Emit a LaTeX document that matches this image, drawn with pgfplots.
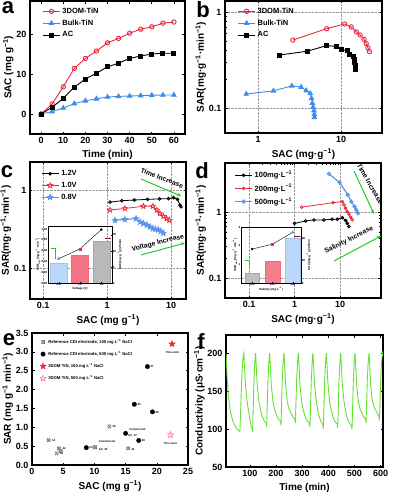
\documentclass[border=0pt]{standalone}
\usepackage{fontspec}
\setmainfont{Liberation Sans}
\usepackage{pgfplots}
\pgfplotsset{compat=1.18}
\usetikzlibrary{arrows.meta}

\definecolor{tinred}{RGB}{238,40,64}
\definecolor{tinblue}{RGB}{60,140,240}
\definecolor{lblue}{RGB}{90,150,235}
\definecolor{arrgreen}{RGB}{40,200,40}
\definecolor{fgreen}{RGB}{100,225,50}
\definecolor{darkred}{RGB}{140,30,30}

\newcommand{\fs}[1]{\fontsize{#1}{#1}\selectfont}

% five-pointed star
\pgfdeclareplotmark{pstar}{%
  \pgfpathmoveto{\pgfpointpolar{90}{1.3\pgfplotmarksize}}%
  \pgfpathlineto{\pgfpointpolar{126}{0.55\pgfplotmarksize}}%
  \pgfpathlineto{\pgfpointpolar{162}{1.3\pgfplotmarksize}}%
  \pgfpathlineto{\pgfpointpolar{198}{0.55\pgfplotmarksize}}%
  \pgfpathlineto{\pgfpointpolar{234}{1.3\pgfplotmarksize}}%
  \pgfpathlineto{\pgfpointpolar{270}{0.55\pgfplotmarksize}}%
  \pgfpathlineto{\pgfpointpolar{306}{1.3\pgfplotmarksize}}%
  \pgfpathlineto{\pgfpointpolar{342}{0.55\pgfplotmarksize}}%
  \pgfpathlineto{\pgfpointpolar{18}{1.3\pgfplotmarksize}}%
  \pgfpathlineto{\pgfpointpolar{54}{0.55\pgfplotmarksize}}%
  \pgfpathclose\pgfusepathqfillstroke}
% square with a cross
\pgfdeclareplotmark{boxx}{%
  \pgfpathrectangle{\pgfqpoint{-\pgfplotmarksize}{-\pgfplotmarksize}}{\pgfqpoint{2\pgfplotmarksize}{2\pgfplotmarksize}}%
  \pgfpathmoveto{\pgfqpoint{-\pgfplotmarksize}{-\pgfplotmarksize}}\pgfpathlineto{\pgfqpoint{\pgfplotmarksize}{\pgfplotmarksize}}%
  \pgfpathmoveto{\pgfqpoint{-\pgfplotmarksize}{\pgfplotmarksize}}\pgfpathlineto{\pgfqpoint{\pgfplotmarksize}{-\pgfplotmarksize}}%
  \pgfusepathqstroke}

\pgfplotsset{
  panel/.style={
    scale only axis, anchor=south west,
    axis line style={line width=1.1pt},
    tick style={black, line width=0.6pt},
    major tick length=2.5pt, minor tick length=1.5pt,
    tick label style={font=\bfseries\fs{9}},
    label style={font=\bfseries\fs{10}},
    ylabel shift=-4pt, xlabel shift=-1pt,
    legend style={draw=none, fill=none, font=\bfseries\fs{7.5}, row sep=1pt},
    legend cell align=left,
    /pgf/number format/assume math mode=true,
  },
  gridded/.style={grid=major, major grid style={densely dotted, gray!80, line width=0.5pt}},
  inset/.style={
    scale only axis, anchor=south west,
    axis line style={line width=0.5pt},
    tick style={black, line width=0.3pt},
    major tick length=1pt, minor tick length=0pt,
    tick label style={font=\bfseries\fs{3}, inner sep=0.6pt},
    label style={font=\bfseries\fs{3}, inner sep=0.6pt},
    /pgf/number format/assume math mode=true,
  },
}

\begin{document}
\begin{tikzpicture}
\useasboundingbox (0,0) rectangle (392pt,-497pt);

% ---------------- a ----------------
\begin{axis}[panel, at={(30pt,-134pt)}, width=155pt, height=133pt,
  xmin=-5, xmax=65, ymin=-5, ymax=28.25,
  xtick={0,10,...,60}, ytick={0,10,20},
  xlabel={Time (min)}, ylabel={SAC (mg g\textsuperscript{−1})},
  legend style={at={(0.06,0.98)}, anchor=north west}]
\addplot[tinred, line width=0.9pt, mark=o, mark size=2.2pt, mark options={fill=white}] coordinates {
 (0,0) (5,2.5) (10,6.8) (15,11.4) (20,13.9) (25,15.75) (30,17.8) (35,18.9) (40,20.2) (45,21.2) (50,21.8) (55,22.7) (60,23.0)};
\addplot[tinblue, line width=0.9pt, mark=triangle*, mark size=2.5pt] coordinates {
 (0,0) (5,0.6) (10,1.5) (15,2.6) (20,3.3) (25,3.8) (30,4.25) (35,4.4) (40,4.5) (45,4.6) (50,4.7) (55,4.75) (60,4.75)};
\addplot[black, line width=0.9pt, mark=square*, mark size=2pt] coordinates {
 (0,0) (5,1.7) (10,3.9) (15,6.7) (20,8.75) (25,10.2) (30,11.8) (35,12.7) (40,13.9) (45,14.5) (50,15.0) (55,15.2) (60,15.2)};
\legend{3DOM-TiN, Bulk-TiN, AC}
\end{axis}

% ---------------- b ----------------
\begin{axis}[panel, xmode=log, ymode=log, gridded, at={(225pt,-133pt)}, width=157pt, height=132pt,
  xmin=0.40, xmax=31, ymin=0.055, ymax=1.30,
  xtick={1,10}, xticklabels={1,10}, ytick={0.1,1}, yticklabels={0.1,1},
  xlabel={SAC (mg·g\textsuperscript{−1})}, ylabel={SAR(mg·g\textsuperscript{−1}·min\textsuperscript{−1})},
  legend style={at={(0.06,0.98)}, anchor=north west}]
\addplot[tinred, line width=0.9pt, mark=o, mark size=2.2pt, mark options={fill=white}] coordinates {
 (2.62,0.51) (6.7,0.67) (11.0,0.75) (13.2,0.70) (15.2,0.62) (16.9,0.576) (18.8,0.52) (20.0,0.47) (21.0,0.425) (21.9,0.386)};
\addplot[tinblue, line width=0.9pt, mark=triangle*, mark size=2.5pt] coordinates {
 (0.72,0.14) (1.53,0.151) (2.55,0.17) (3.3,0.165) (3.8,0.152) (4.25,0.142) (4.4,0.126) (4.5,0.1125) (4.6,0.102) (4.7,0.094) (4.75,0.086) (4.77,0.080)};
\addplot[black, line width=0.9pt, mark=square*, mark size=2pt] coordinates {
 (1.8,0.356) (3.9,0.39) (6.7,0.447) (8.75,0.4375) (10.2,0.408) (11.8,0.393) (12.7,0.363) (13.9,0.3475) (14.3,0.322) (14.6,0.30) (14.7,0.276) (14.7,0.252)};
\legend{3DOM-TiN, Bulk-TiN, AC}
\end{axis}

% ---------------- c ----------------
\begin{axis}[panel, xmode=log, ymode=log, gridded, at={(30pt,-299pt)}, width=156pt, height=137pt,
  xmin=0.0626, xmax=17.1, ymin=0.040, ymax=2.29,
  xtick={0.1,1,10}, xticklabels={0.1,1,10}, ytick={0.1,1}, yticklabels={0.1,1},
  xlabel={SAC (mg g\textsuperscript{−1})}, ylabel={SAR(mg·g\textsuperscript{−1}·min\textsuperscript{−1})},
  legend style={at={(0.05,0.97)}, anchor=north west}]
\addplot[black, line width=0.8pt, mark=o, mark size=1.4pt, mark options={fill=white}] coordinates {
 (1.11,0.70) (1.70,0.73) (2.67,0.745) (4.3,0.76) (6.6,0.77) (9.1,0.775) (10.9,0.80) (12.6,0.76) (13.8,0.64) (14.3,0.61)};
\addplot[tinred, line width=0.8pt, mark=pstar, mark size=2pt, mark options={fill=white}] coordinates {
 (1.11,0.555) (1.9,0.58) (3.7,0.62) (5.2,0.62) (6.0,0.555) (6.7,0.50) (7.6,0.46) (8.55,0.43) (9.4,0.41)};
\addplot[lblue, line width=1.2pt, mark=pstar, mark size=1.8pt, mark options={fill=lblue!50}] coordinates {
 (1.33,0.41) (1.9,0.42) (2.84,0.43) (3.3,0.39) (3.7,0.372) (4.2,0.355) (4.7,0.337) (5.2,0.32) (5.7,0.315) (6.3,0.31) (6.9,0.295) (7.6,0.28)};
\legend{1.2V, 1.0V, 0.8V}
\end{axis}

% inset c: bars on right axis
\begin{axis}[inset, at={(48pt,-283pt)}, width=64pt, height=57pt,
  xmin=0.7, xmax=1.3, ymin=0, ymax=17.8,
  axis x line=none, axis y line*=right, ytick={0,5,10,15},
  ylabel={SAC(mg·g\textsuperscript{−1})@25min}]
\addplot[ybar, bar shift=0pt, bar width=0.16, fill=tinblue!35, draw=tinblue!50] coordinates {(0.8,6.2)};
\addplot[ybar, bar shift=0pt, bar width=0.16, fill=tinred!65, draw=tinred!70] coordinates {(1.0,8.7)};
\addplot[ybar, bar shift=0pt, bar width=0.16, fill=gray!55, draw=gray!70] coordinates {(1.2,13.1)};
\end{axis}
% inset c: line on left axis
\begin{axis}[inset, at={(48pt,-283pt)}, width=64pt, height=57pt,
  xmin=0.7, xmax=1.3, ymin=0, ymax=1.055,
  xtick={0.8,1.0,1.2}, xticklabels={0.8,1.0,1.2}, ytick={0,0.2,0.4,0.6,0.8,1.0},
  xtick pos=bottom, ytick pos=left,
  yticklabel style={/pgf/number format/.cd, fixed, fixed zerofill, precision=2},
  xlabel={Voltage (V)}, ylabel={SAR\textsubscript{max}(mg·g\textsuperscript{−1}·min\textsuperscript{−1})}]
\addplot[black, line width=0.4pt] coordinates {(0.8,0.45) (1.0,0.63) (1.2,0.99)};
\addplot[only marks, mark=triangle*, mark size=1.3pt, tinblue] coordinates {(0.8,0.45)};
\addplot[only marks, mark=square*, mark size=1pt, tinred] coordinates {(1.0,0.63)};
\addplot[only marks, mark=*, mark size=1pt, black] coordinates {(1.2,0.99)};
\end{axis}
\draw[arrgreen, line width=0.6pt] (51pt,-248pt) -- (55.5pt,-248pt) -- (55.5pt,-259pt);
\draw[darkred, line width=0.6pt, -{Stealth[length=1.5pt,width=1.5pt]}] (105pt,-238.5pt) -- (111pt,-238.5pt);

% c annotations
\node[font=\bfseries\fs{6.8}, rotate=-21] at (162pt,-178pt) {Time Increase};
\draw[arrgreen, line width=1pt, -{Stealth[length=4pt,width=3.5pt]}] (141pt,-179pt) -- (181pt,-196pt);
\node[font=\bfseries\fs{6.8}, rotate=14] at (158pt,-243pt) {Voltage Increase};
\draw[arrgreen, line width=1pt, -{Stealth[length=4pt,width=3.5pt]}] (141pt,-255pt) -- (185pt,-243pt);

% ---------------- d ----------------
\begin{axis}[panel, xmode=log, ymode=log, gridded, at={(225pt,-298pt)}, width=156pt, height=135pt,
  xmin=0.0297, xmax=79, ymin=0.0498, ymax=5.5,
  xtick={0.1,1,10}, xticklabels={0.1,1,10}, ytick={0.1,1}, yticklabels={0.1,1},
  xlabel={SAC (mg·g\textsuperscript{−1})}, ylabel={SAR(mg·g\textsuperscript{−1}·min\textsuperscript{−1})},
  legend style={at={(0.04,0.97)}, anchor=north west}]
\addplot[black, line width=0.8pt, mark=o, mark size=1.4pt, mark options={fill=white}] coordinates {
 (1.0,0.67) (1.75,0.73) (2.66,0.757) (4.4,0.757) (6.7,0.775) (8.7,0.775) (11.2,0.82) (13.2,0.74) (14.4,0.67) (15.6,0.60)};
\addplot[tinred, line width=0.8pt, mark=o, mark size=1.4pt, mark options={fill=white}] coordinates {
 (1.43,1.18) (6.95,1.38) (11.2,1.43) (12.1,1.28) (13.2,1.14) (14.4,1.01) (15.6,0.93) (17.0,0.83) (18.5,0.76)};
\addplot[lblue, line width=1.2pt, mark=o, mark size=1.5pt, mark options={fill=white}] coordinates {
 (5.7,3.77) (9.8,2.78) (14.8,1.81) (17.6,1.43) (20.8,1.20) (22.7,1.07) (24.6,0.955)};
\legend{100mg·L\textsuperscript{−1}, 200mg·L\textsuperscript{−1}, 500mg·L\textsuperscript{−1}}
\end{axis}

% inset d: bars on right axis
\begin{axis}[inset, at={(241pt,-283pt)}, width=60pt, height=56pt,
  xmin=-0.55, xmax=2.4, ymin=0, ymax=25.2,
  axis x line=none, axis y line*=right, ytick={0,10,20},
  ylabel={SAC(mg·g\textsuperscript{−1})@25min}]
\addplot[ybar, bar shift=0pt, bar width=0.72, fill=gray!50, draw=gray!70] coordinates {(0,4.4)};
\addplot[ybar, bar shift=0pt, bar width=0.72, fill=tinred!60, draw=tinred!70] coordinates {(1,9.9)};
\addplot[ybar, bar shift=0pt, bar width=0.72, fill=tinblue!35, draw=tinblue!50] coordinates {(2,20)};
\end{axis}
% inset d: line on left axis
\begin{axis}[inset, at={(241pt,-283pt)}, width=60pt, height=56pt,
  xmin=-0.55, xmax=2.4, ymin=0, ymax=3,
  xtick={0,1,2}, xticklabels={100,200,500}, ytick={1,2,3},
  xtick pos=bottom, ytick pos=left,
  xlabel={Salinity (mg·L\textsuperscript{−1})}, ylabel={SAR\textsubscript{max}(mg·g\textsuperscript{−1}·min\textsuperscript{−1})}]
\addplot[black, line width=0.4pt] coordinates {(0,1.82) (1,2.08) (2,2.72)};
\addplot[only marks, mark=*, mark size=1pt, black] coordinates {(0,1.82)};
\addplot[only marks, mark=square*, mark size=1pt, tinred] coordinates {(1,2.08)};
\addplot[only marks, mark=triangle*, mark size=1.3pt, tinblue] coordinates {(2,2.72)};
\end{axis}
\draw[arrgreen, line width=0.6pt] (245pt,-260pt) -- (249.5pt,-260pt) -- (249.5pt,-268pt);
\draw[darkred, line width=0.6pt, -{Stealth[length=1.5pt,width=1.5pt]}] (294pt,-236.5pt) -- (300.5pt,-236.5pt);

% d annotations
\node[font=\bfseries\fs{6.8}, rotate=-60] at (370pt,-184pt) {Time Increase};
\draw[arrgreen, line width=1pt, -{Stealth[length=4pt,width=3.5pt]}] (354pt,-171pt) -- (374pt,-214pt);
\node[font=\bfseries\fs{6.8}, rotate=27] at (349pt,-240pt) {Salinity Increase};
\draw[arrgreen, line width=1pt, -{Stealth[length=4pt,width=3.5pt]}] (334pt,-261pt) -- (381pt,-236pt);

% ---------------- e ----------------
\begin{axis}[panel, at={(32pt,-465pt)}, width=156pt, height=132pt,
  xmin=0, xmax=25, ymin=0, ymax=3.5,
  xtick={0,5,...,25}, ytick={0,0.5,...,3.5},
  yticklabel style={/pgf/number format/.cd, fixed, fixed zerofill, precision=1},
  xlabel={SAC (mg g\textsuperscript{−1})}, ylabel={SAR (mg g\textsuperscript{−1} min\textsuperscript{−1})},
  legend style={at={(0.03,0.985)}, anchor=north west, font=\bfseries\fs{4.2}, row sep=2.6pt}]
\addplot[only marks, mark=boxx, mark size=1.6pt, gray!80!black, line width=0.4pt] coordinates {
 (2.66,0.66) (4.3,0.44) (3.95,0.31) (4.6,0.37) (10.1,0.47) (12.4,1.02) (15.4,0.44)};
\addplot[only marks, mark=*, mark size=2.2pt, black] coordinates {
 (18.5,2.61) (16.4,1.61) (19.3,1.41) (15.0,0.84) (17.1,0.65) (8.7,0.46)};
\addplot[only marks, mark=pstar, mark size=2.6pt, tinred, mark options={fill=tinred}] coordinates {(22.45,3.21)};
\addplot[only marks, mark=pstar, mark size=2.6pt, tinred!70, mark options={fill=tinred!12}] coordinates {(22.2,0.80)};
\legend{Reference CDI electrode{,} 100 mg L\textsuperscript{−1} NaCl, Reference CDI electrode{,} 500 mg L\textsuperscript{−1} NaCl, 3DOM-TiN{,} 100 mg L\textsuperscript{−1} NaCl, 3DOM-TiN{,} 500 mg L\textsuperscript{−1} NaCl}
\begin{scope}[every node/.style={font=\bfseries\fs{2.8}, inner sep=0.5pt}]
\node[anchor=west] at (axis cs:18.9,2.61) {47};
\node[anchor=west] at (axis cs:16.8,1.60) {45};
\node[anchor=west] at (axis cs:19.7,1.40) {46};
\node[anchor=west] at (axis cs:15.5,0.93) {Commercial};
\node[anchor=west] at (axis cs:15.3,0.77) {AC, 37};
\node[anchor=west] at (axis cs:17.5,0.64) {48};
\node[anchor=west] at (axis cs:15.8,0.42) {44};
\node[anchor=west] at (axis cs:12.8,1.02) {40};
\node[anchor=west] at (axis cs:10.6,0.62) {Commercial};
\node[anchor=west] at (axis cs:10.6,0.40) {AC, 36};
\node[anchor=west] at (axis cs:9.1,0.45) {50};
\node[anchor=west] at (axis cs:3.1,0.66) {14};
\node[anchor=west] at (axis cs:4.8,0.43) {42};
\node[anchor=west] at (axis cs:4.4,0.31) {43};
\node at (axis cs:22.5,2.97) {This work};
\node at (axis cs:22.2,0.57) {This work};
\end{scope}
\end{axis}

% ---------------- f ----------------
\begin{axis}[panel, at={(226pt,-467pt)}, width=157pt, height=132pt,
  xmin=9, xmax=609, ymin=50, ymax=224,
  xtick={100,200,...,600}, ytick={50,100,150,200},
  xlabel={Time (min)}, ylabel={Conductivity (μS·cm\textsuperscript{−1})}]
\addplot[fgreen, line width=0.9pt] coordinates {
 (9,199) (10,195) (11.5,183) (13,170) (15.5,156) (19,141) (24,127) (30,117) (36,110) (42,105) (48,101) (54,99) (62,97)
 (64,115) (66.5,140) (69,165) (72,186) (74.5,196) (77,200)
 (79.5,184) (83.4,158) (89.8,136) (95,124) (100,113) (105,104) (108.5,101) (110.5,96)
 (113,127) (115.5,160.5) (118.5,184.4) (121,197) (122,200)
 (124.5,184) (128.4,158) (134.8,136) (141,125) (147.5,116.7) (154,111.2) (162.2,107.7) (164.2,102.7)
 (166.7,131.9) (169.2,163.0) (172.2,185.4) (174.7,197) (175.7,200)
 (178.2,184) (182.1,158) (188.5,136) (194.7,126) (201.2,119) (207.7,114) (217,110) (219,105)
 (221.5,133.5) (224,163.9) (227,185.8) (229.5,197) (230.5,200)
 (233,184) (236.9,158) (243.3,136) (249.5,127) (256,122) (262.5,117) (272,113) (274,108)
 (276.5,135.6) (279,165) (282,186.2) (284.5,197) (285.5,200)
 (288,184) (291.9,158) (298.3,136) (304.5,125) (311,116.7) (317.5,111.2) (327.8,107.7) (329.8,102.7)
 (332.3,131.9) (334.8,163) (337.8,185.4) (340.3,197) (341.3,200)
 (343.8,184) (347.7,158) (354.1,136) (360.3,124) (366.8,114.5) (373.3,109.5) (379.1,105.5) (381.1,100.5)
 (383.6,130.4) (386.1,162.2) (389.1,185.1) (391.6,197) (392.6,200)
 (395.1,184) (399,158) (405.4,136) (411.6,124.5) (418.1,115.5) (424.6,110) (433.8,106.5) (435.8,101.5)
 (438.3,131) (440.8,162.6) (443.8,185.2) (446.3,197) (447.3,200)
 (449.8,184) (453.7,158) (460.1,136) (466.3,124) (472.8,114) (479.3,108.5) (488.5,104.6) (490.5,99.6)
 (493,129.7) (495.5,161.9) (498.5,185) (501,197) (502,200)
 (504.5,184) (508.4,158) (514.8,136) (521,127) (527.5,122) (534,117) (542.1,113) (544.1,108)
 (546.6,135.6) (549.1,165) (552.1,186.2) (554.6,197) (555.6,200)
 (558.1,184) (562,158) (568.4,137) (574.6,129) (581.1,125) (587.6,120.5) (593.3,116.5) (595.3,111.5)
 (597.8,138) (600.3,166.4) (603.3,186.7) (605.8,197) (606.8,200) (609,196)};
\end{axis}

% panel letters
\node[font=\bfseries\fs{22}] at (8pt,-8pt) {a};
\node[font=\bfseries\fs{22}] at (203pt,-10pt) {b};
\node[font=\bfseries\fs{22}] at (7pt,-172pt) {c};
\node[font=\bfseries\fs{22}] at (202pt,-171pt) {d};
\node[font=\bfseries\fs{22}] at (9pt,-340pt) {e};
\node[font=\bfseries\fs{22}] at (201pt,-342pt) {f};
\end{tikzpicture}
\end{document}
